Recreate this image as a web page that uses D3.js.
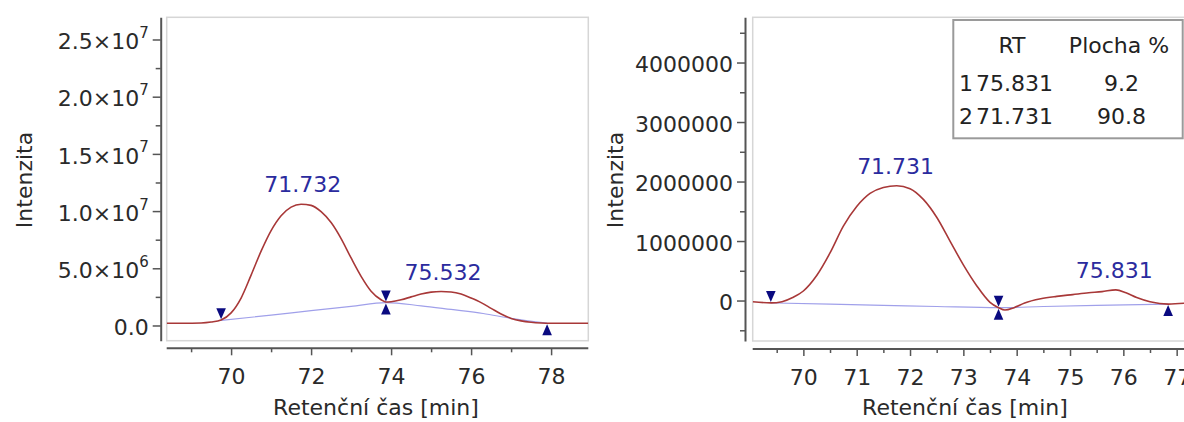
<!DOCTYPE html>
<html>
<head>
<meta charset="utf-8">
<script src="https://cdn.jsdelivr.net/npm/d3@7"></script>
<style>
  html, body { margin: 0; padding: 0; background: #fff; }
  svg { display: block; font-family: "DejaVu Sans", Verdana, sans-serif; }
</style>
</head>
<body>
<svg id="chart" width="1184" height="422"></svg>
<script>
// ---------------- DATA ----------------
// Left chromatogram
const leftTime = [68.39, 68.8, 69.25, 69.5, 69.75, 70.0, 70.25, 70.5, 70.75, 71.0, 71.25, 71.5, 71.75, 72.0, 72.25, 72.5, 72.75, 73.0, 73.25, 73.5, 73.75, 73.87, 74.0, 74.25, 74.5, 74.75, 75.0, 75.25, 75.5, 75.75, 76.0, 76.25, 76.5, 76.75, 77.0, 77.25, 77.5, 77.75, 78.0, 78.5, 78.93];
const leftSignal = [0.2e6, 0.2e6, 0.22e6, 0.3e6, 0.48e6, 1.1e6, 2.4e6, 4.4e6, 6.5e6, 8.3e6, 9.6e6, 10.35e6, 10.6e6, 10.5e6, 9.95e6, 9.0e6, 7.6e6, 5.9e6, 4.3e6, 3.0e6, 2.25e6, 2.05e6, 2.08e6, 2.25e6, 2.5e6, 2.75e6, 2.92e6, 2.97e6, 2.93e6, 2.75e6, 2.4e6, 2.0e6, 1.5e6, 1.0e6, 0.62e6, 0.4e6, 0.28e6, 0.22e6, 0.2e6, 0.2e6, 0.2e6];
const leftBaseTime = [69.75, 71.0, 72.0, 73.0, 73.87, 74.75, 75.5, 76.3, 77.0, 77.9];
const leftBaseValue = [0.45e6, 0.9e6, 1.3e6, 1.67e6, 2.0e6, 1.72e6, 1.4e6, 1.05e6, 0.62e6, 0.2e6];
const leftMarkerTime = [69.75, 73.87, 73.87, 77.9];
const leftMarkerValue = [0.45e6, 2.0e6, 2.0e6, 0.2e6];
const leftMarkerDir = ["down", "down", "up", "up"];
const leftPeakLabel = ["71.732", "75.532"];
const leftPeakTime = [71.79, 75.3];
const leftPeakValue = [10.6e6, 2.97e6];
const leftYTicks = [0, 5e6, 10e6, 15e6, 20e6, 25e6];
const leftYMantissa = ["0.0", "5.0", "1.0", "1.5", "2.0", "2.5"];
const leftYExponent = ["", "6", "7", "7", "7", "7"];
const leftYMinor = [2.5e6, 7.5e6, 12.5e6, 17.5e6, 22.5e6];
const leftXTicks = [70, 72, 74, 76, 78];
const leftXMinor = [69, 71, 73, 75, 77];

// Right chromatogram
const rightTime = [69.05, 69.39, 69.6, 69.8, 70.0, 70.25, 70.5, 70.75, 71.0, 71.25, 71.5, 71.75, 72.0, 72.25, 72.5, 72.75, 73.0, 73.25, 73.5, 73.66, 73.78, 73.95, 74.15, 74.45, 74.75, 75.05, 75.35, 75.6, 75.86, 76.05, 76.25, 76.5, 76.84, 77.34];
const rightSignal = [-0.02e6, -0.04e6, -0.02e6, 0.05e6, 0.16e6, 0.42e6, 0.8e6, 1.25e6, 1.58e6, 1.8e6, 1.9e6, 1.93e6, 1.88e6, 1.7e6, 1.4e6, 1.0e6, 0.6e6, 0.25e6, -0.03e6, -0.12e6, -0.16e6, -0.12e6, -0.04e6, 0.03e6, 0.07e6, 0.1e6, 0.13e6, 0.15e6, 0.18e6, 0.13e6, 0.05e6, -0.02e6, -0.06e6, -0.03e6];
const rightBaseTime = [69.39, 70.5, 71.5, 72.5, 73.66, 74.5, 75.5, 76.84];
const rightBaseValue = [-0.04e6, -0.06e6, -0.08e6, -0.1e6, -0.12e6, -0.1e6, -0.08e6, -0.06e6];
const rightMarkerTime = [69.39, 73.66, 73.66, 76.84];
const rightMarkerValue = [-0.04e6, -0.12e6, -0.12e6, -0.06e6];
const rightMarkerDir = ["down", "down", "up", "up"];
const rightPeakLabel = ["71.731", "75.831"];
const rightPeakTime = [71.73, 75.83];
const rightPeakValue = [1.93e6, 0.18e6];
const rightYTicks = [0, 1000000, 2000000, 3000000, 4000000];
const rightYMinor = [-500000, 500000, 1500000, 2500000, 3500000, 4500000];
const rightXTicks = [70, 71, 72, 73, 74, 75, 76, 77];
const rightXMinor = [69.5, 70.5, 71.5, 72.5, 73.5, 74.5, 75.5, 76.5];

// Results table
const tableHeader = ["RT", "Plocha %"];
const tableIndex = ["1", "2"];
const tableRT = ["75.831", "71.731"];
const tableArea = ["9.2", "90.8"];

const xTitle = "Retenční čas [min]";
const yTitle = "Intenzita";

// ---------------- DRAWING ----------------
const svg = d3.select("#chart");
const RED = "#a83838", BLUE_BASE = "#a0a0ea", LABEL_BLUE = "#2b2b9e", MARK = "#0a0a80";
const AXIS = "#555", TEXT = "#2a2a2a";

function zip(a, b) { return a.map((d, i) => [d, b[i]]); }

function panel(cfg) {
  const g = svg.append("g");
  const x = d3.scaleLinear().domain(cfg.xDomain).range(cfg.xRange);
  const y = d3.scaleLinear().domain(cfg.yDomain).range([cfg.bottom, cfg.top]);

  g.append("rect")
    .attr("x", cfg.xRange[0]).attr("y", cfg.top)
    .attr("width", cfg.frameRight - cfg.xRange[0]).attr("height", cfg.bottom - cfg.top)
    .attr("fill", "#fff").attr("stroke", "#d6d6d6").attr("stroke-width", 1.5);

  const clipId = "clip" + cfg.id;
  g.append("clipPath").attr("id", clipId).append("rect")
    .attr("x", cfg.xRange[0]).attr("y", cfg.top)
    .attr("width", cfg.frameRight - cfg.xRange[0]).attr("height", cfg.bottom - cfg.top);

  const plot = g.append("g").attr("clip-path", `url(#${clipId})`);
  const line = d3.line().x(d => x(d[0])).y(d => y(d[1])).curve(d3.curveMonotoneX);

  plot.append("path").datum(zip(cfg.baseTime, cfg.baseValue))
    .attr("d", line).attr("fill", "none").attr("stroke", BLUE_BASE).attr("stroke-width", 1.2);
  plot.append("path").datum(zip(cfg.time, cfg.signal))
    .attr("d", line).attr("fill", "none").attr("stroke", RED).attr("stroke-width", 1.6);

  const tw = 4.8, th = 11;
  plot.selectAll("path.mk").data(cfg.markerTime.map((t, i) => ({ t, v: cfg.markerValue[i], dir: cfg.markerDir[i] })))
    .enter().append("path").attr("class", "mk")
    .attr("d", d => {
      const px = x(d.t), py = y(d.v);
      if (d.dir === "down") return `M${px - tw},${py - 1 - th}L${px + tw},${py - 1 - th}L${px},${py - 1}Z`;
      return `M${px - tw},${py + 1 + th}L${px + tw},${py + 1 + th}L${px},${py + 1}Z`;
    })
    .attr("fill", MARK);

  g.selectAll("text.pk").data(cfg.peakLabel.map((s, i) => ({ s, t: cfg.peakTime[i], v: cfg.peakValue[i] })))
    .enter().append("text").attr("class", "pk")
    .attr("x", d => x(d.t)).attr("y", d => y(d.v) - 12)
    .attr("text-anchor", "middle").attr("font-size", 22).attr("fill", LABEL_BLUE)
    .text(d => d.s);

  const yAxisG = g.append("g").attr("transform", `translate(${cfg.yAxisX},0)`);
  yAxisG.call(d3.axisLeft(y).tickValues(cfg.yTicks).tickSize(8).tickSizeOuter(0).tickPadding(4).tickFormat(cfg.yFormat));
  yAxisG.append("g").call(d3.axisLeft(y).tickValues(cfg.yMinor).tickSize(5).tickFormat(""))
    .select(".domain").remove();
  yAxisG.selectAll("path.domain").attr("stroke", AXIS).attr("stroke-width", 2);
  yAxisG.selectAll(".tick line").attr("stroke", AXIS).attr("stroke-width", 1.5);
  yAxisG.selectAll(".tick text").attr("font-size", 22).attr("fill", TEXT).attr("dy", "0.42em")
    .attr("font-family", "DejaVu Sans, sans-serif");
  if (cfg.superscript) {
    yAxisG.selectAll(".tick text").each(function (d) {
      const k = cfg.yTicks.indexOf(d);
      if (k < 0) return;
      const t = d3.select(this).text("");
      if (cfg.yExponent[k] === "") { t.text(cfg.yMantissa[k]); return; }
      t.append("tspan").text(cfg.yMantissa[k] + "×10");
      t.append("tspan").attr("font-size", 15).attr("dy", "-0.75em").text(cfg.yExponent[k]);
    });
  }

  const xAxisG = g.append("g").attr("transform", `translate(0,${cfg.xAxisY})`);
  xAxisG.call(d3.axisBottom(x).tickValues(cfg.xTicks).tickSize(7).tickSizeOuter(0).tickPadding(13.5).tickFormat(d3.format("d")));
  xAxisG.append("g").call(d3.axisBottom(x).tickValues(cfg.xMinor).tickSize(4).tickFormat(""))
    .select(".domain").remove();
  xAxisG.selectAll("path.domain").attr("stroke", AXIS).attr("stroke-width", 2)
    .attr("d", `M${cfg.xRange[0]},0H${cfg.frameRight}`);
  xAxisG.selectAll(".tick line").attr("stroke", AXIS).attr("stroke-width", 1.5);
  xAxisG.selectAll(".tick text").attr("font-size", 22).attr("fill", TEXT)
    .attr("font-family", "DejaVu Sans, sans-serif");

  g.append("text").attr("x", cfg.xTitleX).attr("y", 415).attr("text-anchor", "middle")
    .attr("font-size", 22).attr("fill", TEXT).text(xTitle);
  g.append("text").attr("transform", `translate(${cfg.yTitleX},${cfg.yTitleY}) rotate(-90)`)
    .attr("text-anchor", "middle").attr("font-size", 22).attr("fill", TEXT).text(yTitle);
  return { g, x, y };
}

panel({
  id: "L",
  xDomain: [68.39, 78.93], xRange: [166.7, 588.3], frameRight: 588.3,
  yDomain: [-1.33e6, 26.94e6], top: 17.3, bottom: 340.7,
  time: leftTime, signal: leftSignal, baseTime: leftBaseTime, baseValue: leftBaseValue,
  markerTime: leftMarkerTime, markerValue: leftMarkerValue, markerDir: leftMarkerDir,
  peakLabel: leftPeakLabel, peakTime: leftPeakTime, peakValue: leftPeakValue,
  yTicks: leftYTicks, yMinor: leftYMinor, yFormat: d => String(d), superscript: true,
  yMantissa: leftYMantissa, yExponent: leftYExponent,
  xTicks: leftXTicks, xMinor: leftXMinor,
  yAxisX: 160.7, xAxisY: 348.3, xTitleX: 376, yTitleX: 32, yTitleY: 180
});

panel({
  id: "R",
  xDomain: [69.05, 77.34], xRange: [752.7, 1194.8], frameRight: 1200,
  yDomain: [-0.68e6, 4.76e6], top: 17.3, bottom: 341,
  time: rightTime, signal: rightSignal, baseTime: rightBaseTime, baseValue: rightBaseValue,
  markerTime: rightMarkerTime, markerValue: rightMarkerValue, markerDir: rightMarkerDir,
  peakLabel: rightPeakLabel, peakTime: rightPeakTime, peakValue: rightPeakValue,
  yTicks: rightYTicks, yMinor: rightYMinor, yFormat: d3.format("d"), superscript: false,
  xTicks: rightXTicks, xMinor: rightXMinor,
  yAxisX: 745, xAxisY: 349, xTitleX: 965, yTitleX: 623, yTitleY: 180
});

const tb = svg.append("g");
tb.append("rect").attr("x", 953.3).attr("y", 20).attr("width", 229.4).attr("height", 118.3)
  .attr("fill", "#fff").attr("stroke", "#9a9a9a").attr("stroke-width", 2);
const colX = [1012, 1119];
tb.selectAll("text.h").data(tableHeader).enter().append("text").attr("class", "h")
  .attr("x", (d, i) => colX[i]).attr("y", 53).attr("text-anchor", "middle")
  .attr("font-size", 22).attr("fill", "#222").text(d => d);
const rowY = [90.7, 124];
tableIndex.forEach((idx, r) => {
  tb.append("text").attr("x", 959).attr("y", rowY[r]).attr("font-size", 22).attr("fill", "#222").text(idx);
  tb.append("text").attr("x", 976).attr("y", rowY[r])
    .attr("font-size", 22).attr("fill", "#222").text(tableRT[r]);
  tb.append("text").attr("x", 1121.5).attr("y", rowY[r]).attr("text-anchor", "middle")
    .attr("font-size", 22).attr("fill", "#222").text(tableArea[r]);
});
</script>
</body>
</html>
